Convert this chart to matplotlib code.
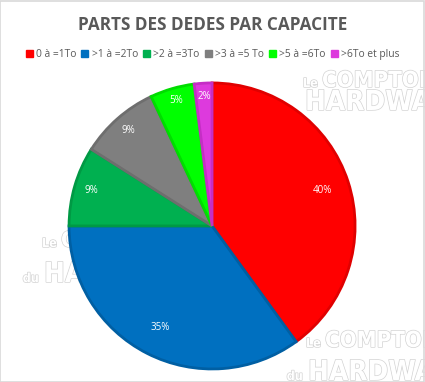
import matplotlib.pyplot as plt
import matplotlib.patheffects as pe
import numpy as np

# données
categories = ["0 à =1To", ">1 à =2To", ">2 à =3To", ">3 à =5 To", ">5 à =6To", ">6To et plus"]
parts = [40, 35, 9, 9, 5, 2]
couleurs = ["#FF0000", "#0070C0", "#00B050", "#7F7F7F", "#00FF00", "#DD3ADD"]
bordures = ["#E00000", "#005FA3", "#009944", "#6E6E6E", "#00DD00", "#C52EC5"]
dist_labels = [0.81, 0.80, 0.88, 0.89, 0.91, 0.91]

plt.rcParams['font.family'] = ['Open Sans', 'DejaVu Sans']

fig = plt.figure(figsize=(4.25, 3.82), dpi=100)

# cadre gris autour du graphique
fig.patches.append(plt.Rectangle((0.001, 0.001), 0.997, 0.996, transform=fig.transFigure,
                                 fill=False, edgecolor="#D9D9D9", linewidth=1.2))

# filigranes "Le COMPTOIR du HARDWARE" (x de "Le", bas ligne 1, bas ligne 2, "du" visible)
fil = dict(color="white", fontweight="bold", zorder=0, va="baseline",
           family=["DejaVu Sans"], fontstretch="condensed",
           path_effects=[pe.withStroke(linewidth=1.0, foreground="#D3D3D3")])
px = lambda v: v / 425
py = lambda v: 1 - v / 382
for x, y1, y2, avec_du in [(303, 87, 110, False), (42, 247, 282, True), (306, 347, 380, True)]:
    fig.text(px(x), py(y1), "Le", fontsize=9, **fil)
    fig.text(px(x + 19), py(y1), "COMPTOIR", fontsize=16, **fil)
    if avec_du:
        fig.text(px(x - 3), py(y2), "du", fontsize=9, ha="right", **fil)
    fig.text(px(x + 2), py(y2), "HARDWARE", fontsize=20, **fil)

ax = fig.add_axes([0.1625, 0.034, 0.673, 0.749])
ax.set_zorder(2)
wedges, _ = ax.pie(parts, colors=couleurs, startangle=90, counterclock=False,
                   wedgeprops=dict(linewidth=2.0))
for w, b in zip(wedges, bordures):
    w.set_edgecolor(b)
    w.set_joinstyle("miter")
    w.set_clip_on(False)

for w, p, d in zip(wedges, parts, dist_labels):
    ang = np.deg2rad((w.theta1 + w.theta2) / 2)
    ax.text(d * np.cos(ang), d * np.sin(ang), f"{p}%", color="white",
            ha="center", va="center", fontsize=7)
ax.set_xlim(-1, 1)
ax.set_ylim(-1, 1)
ax.set_aspect("equal")

fig.text(0.5, 0.935, "PARTS DES DEDES PAR CAPACITE", ha="center", va="center",
         fontsize=12.3, fontweight="bold", color="#595959")

handles = [plt.Rectangle((0, 0), 1, 1, color=c) for c in couleurs]
fig.legend(handles, categories, loc="center", bbox_to_anchor=(0.5, 0.858), ncol=6,
           frameon=False, fontsize=7.4, handlelength=0.7, handleheight=0.7,
           handletextpad=0.3, columnspacing=0.5, labelcolor="#595959")

fig.savefig("out.png", dpi=100)
